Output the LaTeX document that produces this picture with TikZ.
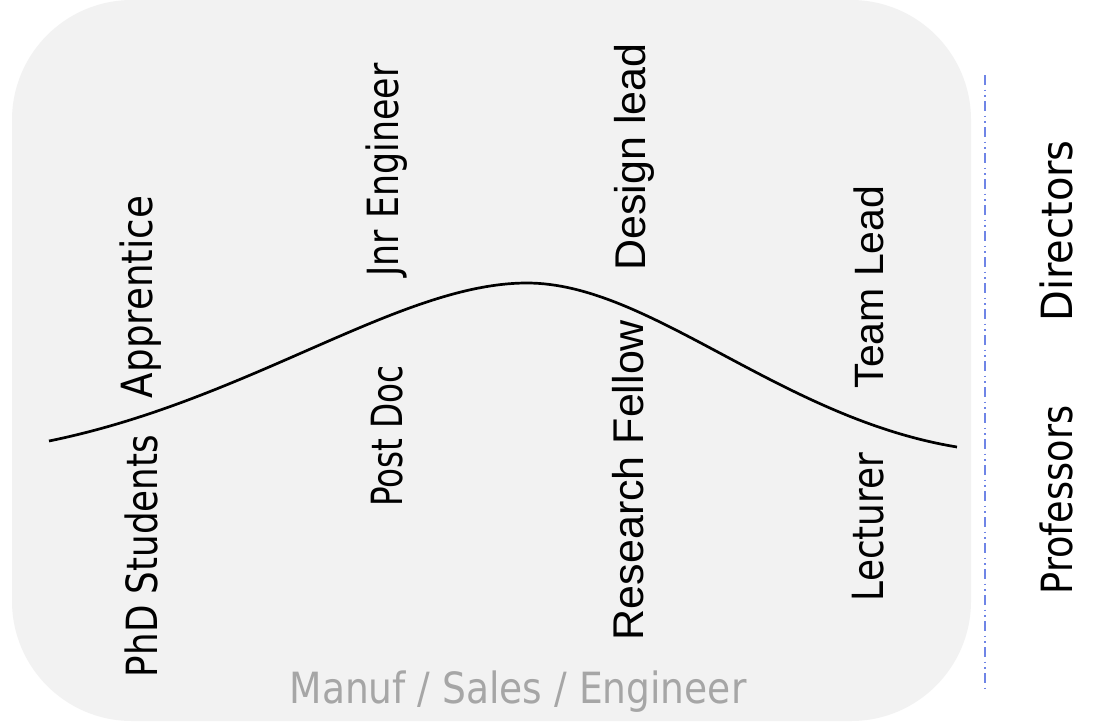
\documentclass[tikz,border=0pt]{standalone}
\usepackage{fontspec}
\newfontfamily\dvs{DejaVu Sans}
\newfontfamily\lib{Liberation Sans}
\definecolor{panelgray}{HTML}{F2F2F2}
\definecolor{captgray}{HTML}{A6A6A6}
\definecolor{dashblue}{HTML}{6F85E6}
\newcommand{\tah}[2]{{\dvs\fontsize{43}{43}\selectfont\scalebox{#1}[1]{#2}}}
\newcommand{\ari}[2]{{\lib\fontsize{#1}{#1}\selectfont #2}}
\begin{document}
\begin{tikzpicture}[x=1pt,y=-1pt,
  lbl/.style={rotate=90,anchor=base,inner sep=0pt,text=black},
  curveline/.style={line width=2.7pt,black},
  sepline/.style={dashblue,line width=2pt,dash pattern=on 10pt off 4.5pt on 1.5pt off 4pt on 1.5pt off 4.5pt}]
\useasboundingbox (0,0) rectangle (1102,721);
\fill[white] (0,0) rectangle (1102,721);
\fill[panelgray,rounded corners=120pt] (12,0) rectangle (971,721);

\coordinate (cstart) at (49,441);
\coordinate (cpeak) at (527,283);
\coordinate (cend) at (957,447);
\draw[curveline] (cstart) .. controls (250,400) and (400,283) .. (cpeak)
  .. controls (650,283) and (780,418) .. (cend);

\coordinate (septop) at (985,75);
\coordinate (sepbot) at (985,691);
\draw[sepline] (septop) -- (sepbot);

\node[lbl] (apprentice) at (152,297) {\tah{0.866}{Apprentice}};
\node[lbl] (phd) at (157,556) {\tah{0.83}{PhD Students}};
\node[lbl] (jnr) at (398,170) {\tah{0.81}{Jnr Engineer}};
\node[lbl] (postdoc) at (402,436) {\tah{0.76}{Post Doc}};
\node[lbl] (design) at (645,157) {\ari{43}{Design lead}};
\node[lbl] (research) at (643,480) {\ari{43}{Research Fellow}};
\node[lbl] (teamlead) at (883,287) {\ari{41}{Team Lead}};
\node[lbl] (lecturer) at (883,527) {\tah{0.833}{Lecturer}};
\node[lbl] (directors) at (1072,231) {\tah{0.93}{Directors}};
\node[lbl] (professors) at (1072,500) {\tah{0.853}{Professors}};
\node[anchor=base,inner sep=0pt,text=captgray] (manuf) at (518,703) {\tah{0.874}{Manuf / Sales / Engineer}};
\end{tikzpicture}
\end{document}
